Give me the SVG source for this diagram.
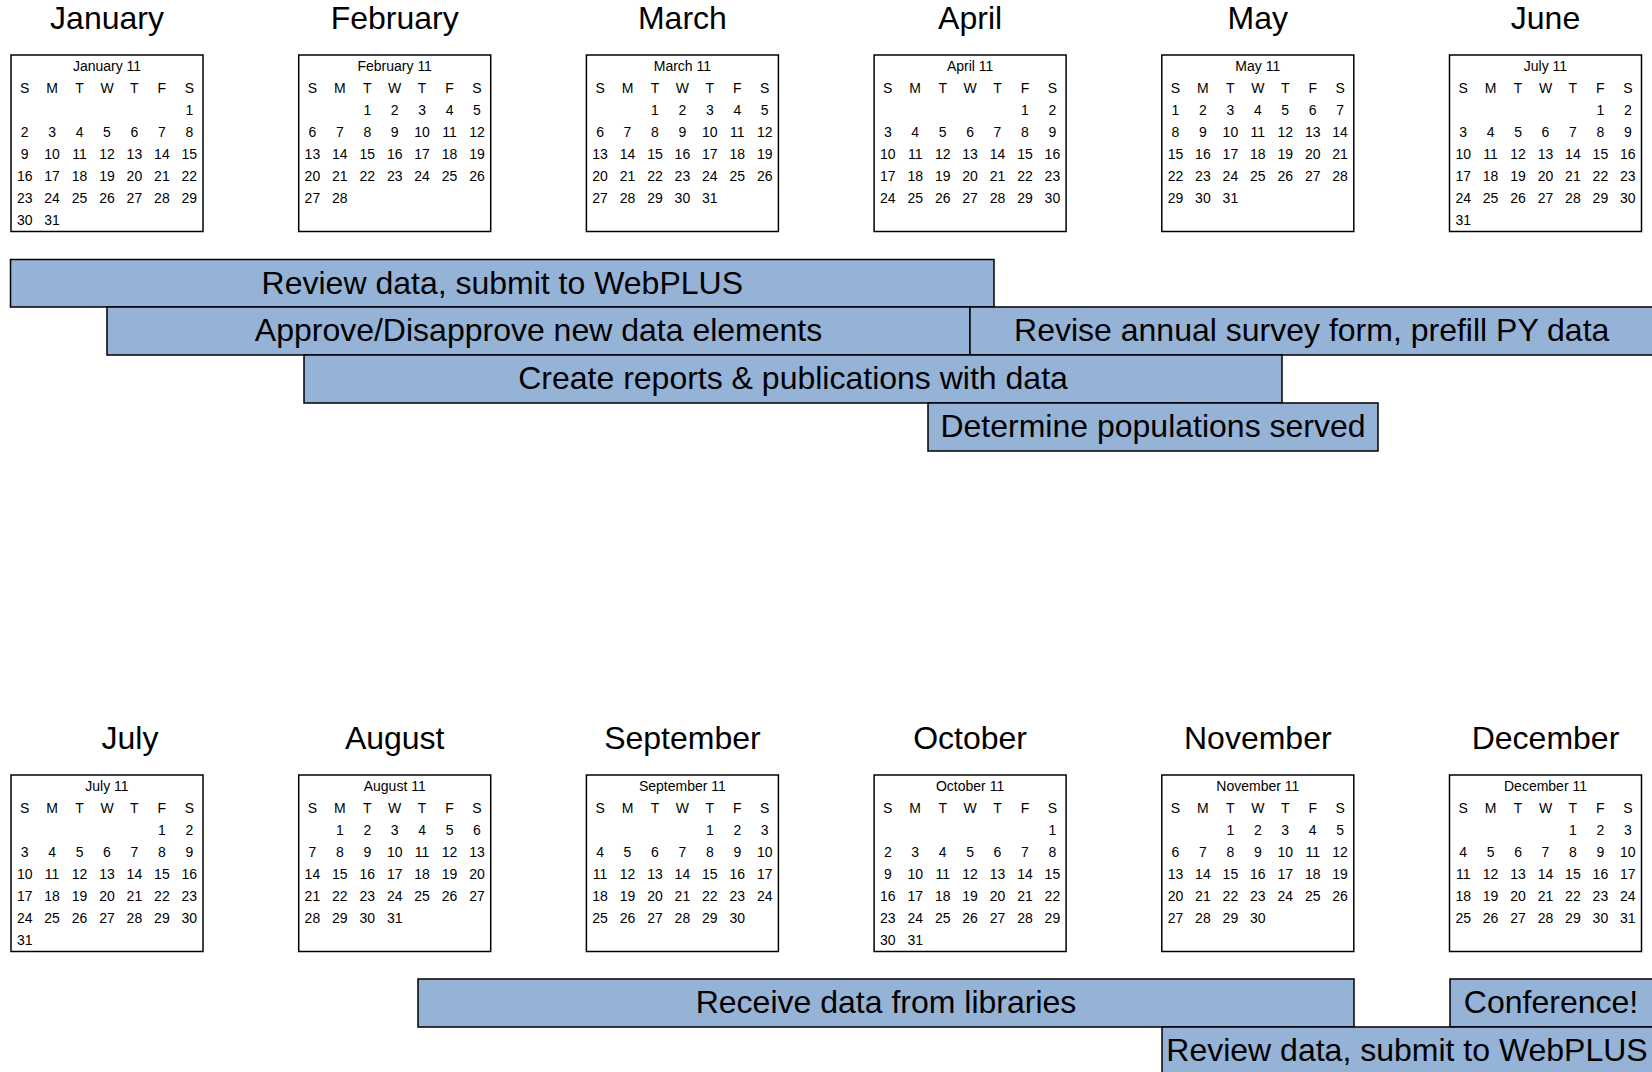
<svg xmlns="http://www.w3.org/2000/svg" xmlns:xlink="http://www.w3.org/1999/xlink" width="1652" height="1072" viewBox="0 0 1652 1072">
<style>
text { font-family: "Liberation Sans", Arial, Helvetica, sans-serif; fill: #000; text-anchor: middle; }
.mt { font-size: 32px; }
.ct { font-size: 14px; }
.d { font-size: 14px; }
.box { fill: #fff; stroke: #000; stroke-width: 1.5; }
.bar rect { fill: #95B3D7; stroke: #000; stroke-width: 1.5; }
.bar text { font-size: 32px; }
</style>
<defs>
<rect id="box" class="box" x="0" y="0" width="192" height="176.5"/>
<text id="hdr" class="d" y="38"><tspan x="13.7">S</tspan><tspan x="41.1">M</tspan><tspan x="68.6">T</tspan><tspan x="96">W</tspan><tspan x="123.4">T</tspan><tspan x="150.9">F</tspan><tspan x="178.3">S</tspan></text>
<!-- offset 6, 31 days (Jan / Oct) -->
<g id="m6_31">
<text class="d" y="59.5"><tspan x="178.3">1</tspan></text>
<text class="d" y="81.6"><tspan x="13.7">2</tspan><tspan x="41.1">3</tspan><tspan x="68.6">4</tspan><tspan x="96">5</tspan><tspan x="123.4">6</tspan><tspan x="150.9">7</tspan><tspan x="178.3">8</tspan></text>
<text class="d" y="103.7"><tspan x="13.7">9</tspan><tspan x="41.1">10</tspan><tspan x="68.6">11</tspan><tspan x="96">12</tspan><tspan x="123.4">13</tspan><tspan x="150.9">14</tspan><tspan x="178.3">15</tspan></text>
<text class="d" y="125.8"><tspan x="13.7">16</tspan><tspan x="41.1">17</tspan><tspan x="68.6">18</tspan><tspan x="96">19</tspan><tspan x="123.4">20</tspan><tspan x="150.9">21</tspan><tspan x="178.3">22</tspan></text>
<text class="d" y="147.9"><tspan x="13.7">23</tspan><tspan x="41.1">24</tspan><tspan x="68.6">25</tspan><tspan x="96">26</tspan><tspan x="123.4">27</tspan><tspan x="150.9">28</tspan><tspan x="178.3">29</tspan></text>
<text class="d" y="170"><tspan x="13.7">30</tspan><tspan x="41.1">31</tspan></text>
</g>
<!-- offset 2, rows 1-4 (Feb / Mar / Nov) -->
<g id="m2_base">
<text class="d" y="59.5"><tspan x="68.6">1</tspan><tspan x="96">2</tspan><tspan x="123.4">3</tspan><tspan x="150.9">4</tspan><tspan x="178.3">5</tspan></text>
<text class="d" y="81.6"><tspan x="13.7">6</tspan><tspan x="41.1">7</tspan><tspan x="68.6">8</tspan><tspan x="96">9</tspan><tspan x="123.4">10</tspan><tspan x="150.9">11</tspan><tspan x="178.3">12</tspan></text>
<text class="d" y="103.7"><tspan x="13.7">13</tspan><tspan x="41.1">14</tspan><tspan x="68.6">15</tspan><tspan x="96">16</tspan><tspan x="123.4">17</tspan><tspan x="150.9">18</tspan><tspan x="178.3">19</tspan></text>
<text class="d" y="125.8"><tspan x="13.7">20</tspan><tspan x="41.1">21</tspan><tspan x="68.6">22</tspan><tspan x="96">23</tspan><tspan x="123.4">24</tspan><tspan x="150.9">25</tspan><tspan x="178.3">26</tspan></text>
</g>
<!-- offset 5, 30 days (Apr); July adds 31 -->
<g id="m5_30">
<text class="d" y="59.5"><tspan x="150.9">1</tspan><tspan x="178.3">2</tspan></text>
<text class="d" y="81.6"><tspan x="13.7">3</tspan><tspan x="41.1">4</tspan><tspan x="68.6">5</tspan><tspan x="96">6</tspan><tspan x="123.4">7</tspan><tspan x="150.9">8</tspan><tspan x="178.3">9</tspan></text>
<text class="d" y="103.7"><tspan x="13.7">10</tspan><tspan x="41.1">11</tspan><tspan x="68.6">12</tspan><tspan x="96">13</tspan><tspan x="123.4">14</tspan><tspan x="150.9">15</tspan><tspan x="178.3">16</tspan></text>
<text class="d" y="125.8"><tspan x="13.7">17</tspan><tspan x="41.1">18</tspan><tspan x="68.6">19</tspan><tspan x="96">20</tspan><tspan x="123.4">21</tspan><tspan x="150.9">22</tspan><tspan x="178.3">23</tspan></text>
<text class="d" y="147.9"><tspan x="13.7">24</tspan><tspan x="41.1">25</tspan><tspan x="68.6">26</tspan><tspan x="96">27</tspan><tspan x="123.4">28</tspan><tspan x="150.9">29</tspan><tspan x="178.3">30</tspan></text>
</g>
<g id="m5_31">
<use xlink:href="#m5_30"/>
<text class="d" y="170"><tspan x="13.7">31</tspan></text>
</g>
<!-- offset 4, rows 1-4 (Sep / Dec) -->
<g id="m4_base">
<text class="d" y="59.5"><tspan x="123.4">1</tspan><tspan x="150.9">2</tspan><tspan x="178.3">3</tspan></text>
<text class="d" y="81.6"><tspan x="13.7">4</tspan><tspan x="41.1">5</tspan><tspan x="68.6">6</tspan><tspan x="96">7</tspan><tspan x="123.4">8</tspan><tspan x="150.9">9</tspan><tspan x="178.3">10</tspan></text>
<text class="d" y="103.7"><tspan x="13.7">11</tspan><tspan x="41.1">12</tspan><tspan x="68.6">13</tspan><tspan x="96">14</tspan><tspan x="123.4">15</tspan><tspan x="150.9">16</tspan><tspan x="178.3">17</tspan></text>
<text class="d" y="125.8"><tspan x="13.7">18</tspan><tspan x="41.1">19</tspan><tspan x="68.6">20</tspan><tspan x="96">21</tspan><tspan x="123.4">22</tspan><tspan x="150.9">23</tspan><tspan x="178.3">24</tspan></text>
</g>
</defs>

<rect x="0" y="0" width="1652" height="1072" fill="#fff"/>

<!-- Top row -->
<g id="cal-january">
<text class="mt" x="107" y="29">January</text>
<g transform="translate(11,55)"><use xlink:href="#box"/><text class="ct" x="96" y="15.5">January 11</text><use xlink:href="#hdr"/><use xlink:href="#m6_31"/></g>
</g>
<g id="cal-february">
<text class="mt" x="394.7" y="29">February</text>
<g transform="translate(298.7,55)"><use xlink:href="#box"/><text class="ct" x="96" y="15.5">February 11</text><use xlink:href="#hdr"/><use xlink:href="#m2_base"/>
<text class="d" y="147.9"><tspan x="13.7">27</tspan><tspan x="41.1">28</tspan></text></g>
</g>
<g id="cal-march">
<text class="mt" x="682.4" y="29">March</text>
<g transform="translate(586.4,55)"><use xlink:href="#box"/><text class="ct" x="96" y="15.5">March 11</text><use xlink:href="#hdr"/><use xlink:href="#m2_base"/>
<text class="d" y="147.9"><tspan x="13.7">27</tspan><tspan x="41.1">28</tspan><tspan x="68.6">29</tspan><tspan x="96">30</tspan><tspan x="123.4">31</tspan></text></g>
</g>
<g id="cal-april">
<text class="mt" x="970.1" y="29">April</text>
<g transform="translate(874.1,55)"><use xlink:href="#box"/><text class="ct" x="96" y="15.5">April 11</text><use xlink:href="#hdr"/><use xlink:href="#m5_30"/></g>
</g>
<g id="cal-may">
<text class="mt" x="1257.8" y="29">May</text>
<g transform="translate(1161.8,55)"><use xlink:href="#box"/><text class="ct" x="96" y="15.5">May 11</text><use xlink:href="#hdr"/>
<text class="d" y="59.5"><tspan x="13.7">1</tspan><tspan x="41.1">2</tspan><tspan x="68.6">3</tspan><tspan x="96">4</tspan><tspan x="123.4">5</tspan><tspan x="150.9">6</tspan><tspan x="178.3">7</tspan></text>
<text class="d" y="81.6"><tspan x="13.7">8</tspan><tspan x="41.1">9</tspan><tspan x="68.6">10</tspan><tspan x="96">11</tspan><tspan x="123.4">12</tspan><tspan x="150.9">13</tspan><tspan x="178.3">14</tspan></text>
<text class="d" y="103.7"><tspan x="13.7">15</tspan><tspan x="41.1">16</tspan><tspan x="68.6">17</tspan><tspan x="96">18</tspan><tspan x="123.4">19</tspan><tspan x="150.9">20</tspan><tspan x="178.3">21</tspan></text>
<text class="d" y="125.8"><tspan x="13.7">22</tspan><tspan x="41.1">23</tspan><tspan x="68.6">24</tspan><tspan x="96">25</tspan><tspan x="123.4">26</tspan><tspan x="150.9">27</tspan><tspan x="178.3">28</tspan></text>
<text class="d" y="147.9"><tspan x="13.7">29</tspan><tspan x="41.1">30</tspan><tspan x="68.6">31</tspan></text></g>
</g>
<g id="cal-june">
<text class="mt" x="1545.5" y="29">June</text>
<g transform="translate(1449.5,55)"><use xlink:href="#box"/><text class="ct" x="96" y="15.5">July 11</text><use xlink:href="#hdr"/><use xlink:href="#m5_31"/></g>
</g>

<!-- Bottom row -->
<g id="cal-july">
<text class="mt" x="130" y="749">July</text>
<g transform="translate(11,775)"><use xlink:href="#box"/><text class="ct" x="96" y="15.5">July 11</text><use xlink:href="#hdr"/><use xlink:href="#m5_31"/></g>
</g>
<g id="cal-august">
<text class="mt" x="394.7" y="749">August</text>
<g transform="translate(298.7,775)"><use xlink:href="#box"/><text class="ct" x="96" y="15.5">August 11</text><use xlink:href="#hdr"/>
<text class="d" y="59.5"><tspan x="41.1">1</tspan><tspan x="68.6">2</tspan><tspan x="96">3</tspan><tspan x="123.4">4</tspan><tspan x="150.9">5</tspan><tspan x="178.3">6</tspan></text>
<text class="d" y="81.6"><tspan x="13.7">7</tspan><tspan x="41.1">8</tspan><tspan x="68.6">9</tspan><tspan x="96">10</tspan><tspan x="123.4">11</tspan><tspan x="150.9">12</tspan><tspan x="178.3">13</tspan></text>
<text class="d" y="103.7"><tspan x="13.7">14</tspan><tspan x="41.1">15</tspan><tspan x="68.6">16</tspan><tspan x="96">17</tspan><tspan x="123.4">18</tspan><tspan x="150.9">19</tspan><tspan x="178.3">20</tspan></text>
<text class="d" y="125.8"><tspan x="13.7">21</tspan><tspan x="41.1">22</tspan><tspan x="68.6">23</tspan><tspan x="96">24</tspan><tspan x="123.4">25</tspan><tspan x="150.9">26</tspan><tspan x="178.3">27</tspan></text>
<text class="d" y="147.9"><tspan x="13.7">28</tspan><tspan x="41.1">29</tspan><tspan x="68.6">30</tspan><tspan x="96">31</tspan></text></g>
</g>
<g id="cal-september">
<text class="mt" x="682.4" y="749">September</text>
<g transform="translate(586.4,775)"><use xlink:href="#box"/><text class="ct" x="96" y="15.5">September 11</text><use xlink:href="#hdr"/><use xlink:href="#m4_base"/>
<text class="d" y="147.9"><tspan x="13.7">25</tspan><tspan x="41.1">26</tspan><tspan x="68.6">27</tspan><tspan x="96">28</tspan><tspan x="123.4">29</tspan><tspan x="150.9">30</tspan></text></g>
</g>
<g id="cal-october">
<text class="mt" x="970.1" y="749">October</text>
<g transform="translate(874.1,775)"><use xlink:href="#box"/><text class="ct" x="96" y="15.5">October 11</text><use xlink:href="#hdr"/><use xlink:href="#m6_31"/></g>
</g>
<g id="cal-november">
<text class="mt" x="1257.8" y="749">November</text>
<g transform="translate(1161.8,775)"><use xlink:href="#box"/><text class="ct" x="96" y="15.5">November 11</text><use xlink:href="#hdr"/><use xlink:href="#m2_base"/>
<text class="d" y="147.9"><tspan x="13.7">27</tspan><tspan x="41.1">28</tspan><tspan x="68.6">29</tspan><tspan x="96">30</tspan></text></g>
</g>
<g id="cal-december">
<text class="mt" x="1545.5" y="749">December</text>
<g transform="translate(1449.5,775)"><use xlink:href="#box"/><text class="ct" x="96" y="15.5">December 11</text><use xlink:href="#hdr"/><use xlink:href="#m4_base"/>
<text class="d" y="147.9"><tspan x="13.7">25</tspan><tspan x="41.1">26</tspan><tspan x="68.6">27</tspan><tspan x="96">28</tspan><tspan x="123.4">29</tspan><tspan x="150.9">30</tspan><tspan x="178.3">31</tspan></text></g>
</g>

<!-- Task bars -->
<g id="bar-review-1" class="bar"><rect x="10.5" y="259.5" width="983.5" height="47.5"/><text x="502.3" y="293.5">Review data, submit to WebPLUS</text></g>
<g id="bar-approve" class="bar"><rect x="107" y="307" width="863" height="48"/><text x="538.5" y="341">Approve/Disapprove new data elements</text></g>
<g id="bar-revise" class="bar"><rect x="970" y="307" width="700" height="48"/><text x="1311.7" y="341">Revise annual survey form, prefill PY data</text></g>
<g id="bar-reports" class="bar"><rect x="304" y="355" width="978" height="48"/><text x="793" y="389">Create reports &amp; publications with data</text></g>
<g id="bar-populations" class="bar"><rect x="928" y="403" width="450" height="48"/><text x="1153" y="437">Determine populations served</text></g>
<g id="bar-receive" class="bar"><rect x="418" y="979" width="936" height="48"/><text x="886" y="1013">Receive data from libraries</text></g>
<g id="bar-conference" class="bar"><rect x="1450" y="979" width="220" height="48"/><text x="1551" y="1013">Conference!</text></g>
<g id="bar-review-2" class="bar"><rect x="1162" y="1027" width="510" height="70"/><text x="1407" y="1061">Review data, submit to WebPLUS</text></g>
<g id="connectors"/>
</svg>
